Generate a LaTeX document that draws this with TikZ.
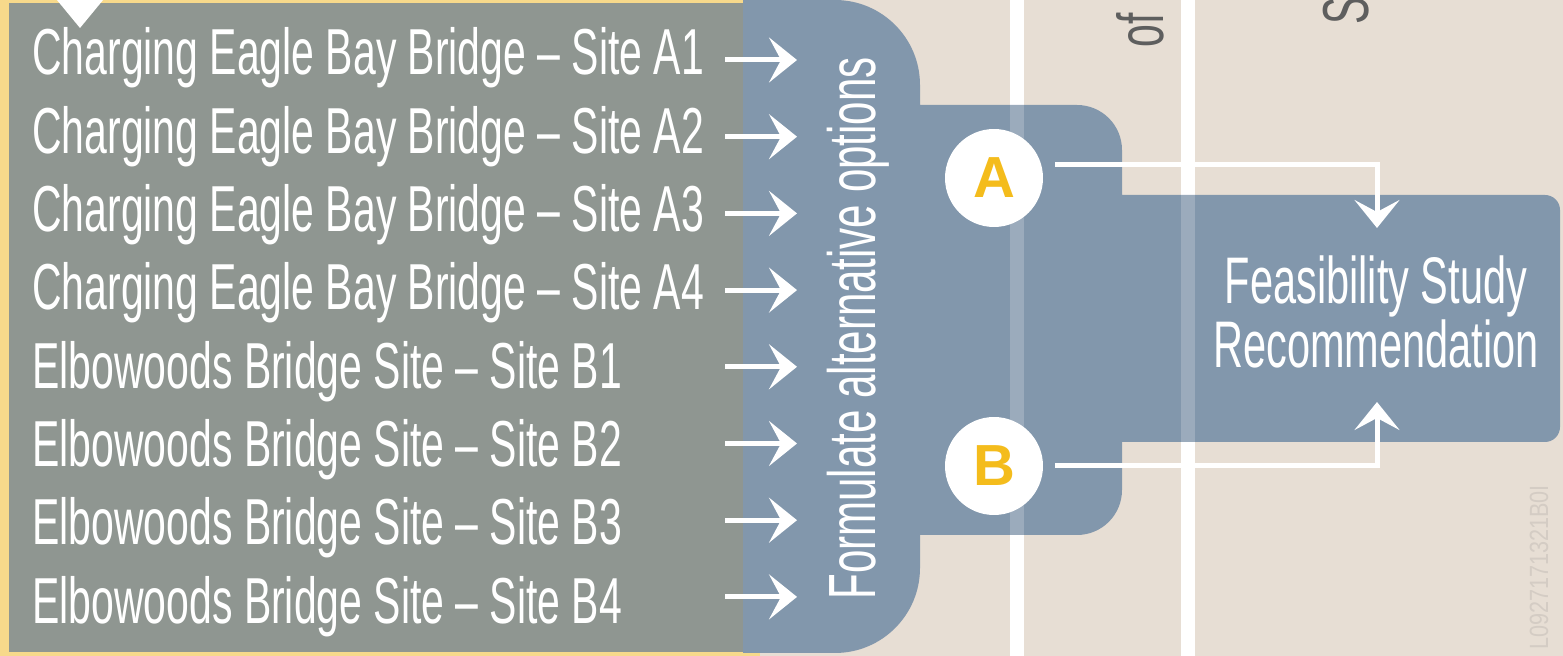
\documentclass[tikz,border=0pt]{standalone}
\usepackage{fontspec}
\usetikzlibrary{arrows.meta}
\newfontfamily\condfont[FakeStretch=0.63]{Liberation Sans}
\newfontfamily\markfont[FakeStretch=0.82]{Liberation Sans}
\newfontfamily\letterfont{Liberation Sans}
\definecolor{bgbeige}{RGB}{231,222,212}
\definecolor{frameyellow}{RGB}{247,217,139}
\definecolor{panelgray}{RGB}{143,150,145}
\definecolor{panelblue}{RGB}{130,151,172}
\definecolor{letteryellow}{RGB}{244,188,28}
\definecolor{headgray}{RGB}{94,94,94}
\definecolor{markgray}{RGB}{212,204,196}

\begin{document}
\begin{tikzpicture}[
  x=0.02cm, y=0.02cm,
  site/.style={anchor=base west,inner sep=0pt,text=white,font=\condfont\fontsize{37}{37}\selectfont},
  flow/.style={white,line width=0.1cm,-{Stealth[length=0.56cm,width=0.9cm,inset=0.24cm]}},
  rail/.style={white,line width=0.27cm},
  option/.style={circle,fill=white,minimum size=1.96cm,inner sep=0pt,text=letteryellow,
    font=\letterfont\bfseries\fontsize{33}{33}\selectfont},
  reco/.style={text=white,align=center,inner sep=0pt,font=\condfont\fontsize{37.5}{31}\selectfont}
]
\useasboundingbox (0,0) rectangle (1563,656);
\clip (0,0) rectangle (1563,656);

\fill[bgbeige] (0,0) rectangle (1563,656);
\fill[frameyellow] (0,0) rectangle (760,656);
\fill[panelgray] (9,4) rectangle (760,653);
\fill[white] (52,662) -- (108,662) -- (80,628) -- cycle;

\foreach \x in {1017,1188} \draw[rail] (\x,0) -- (\x,656);

\fill[panelblue] (743,656) -- (835,656) arc[start angle=90,end angle=0,radius=85]
  -- (920,551) -- (1077,551) arc[start angle=90,end angle=0,radius=45]
  -- (1122,461) -- (1545,461) arc[start angle=90,end angle=0,radius=15]
  -- (1560,229) arc[start angle=0,end angle=-90,radius=15]
  -- (1122,214) -- (1122,166) arc[start angle=0,end angle=-90,radius=45]
  -- (920,121) -- (920,88) arc[start angle=0,end angle=-90,radius=85]
  -- (743,3) -- cycle;

\foreach \x in {1017,1188} \draw[rail,opacity=0.2] (\x,0) -- (\x,656);

\node[site,text=headgray,rotate=90] (headof) at (1163,608) {of};
\node[site,text=headgray,rotate=90] (heads) at (1368,631) {S};
\node[anchor=base west,inner sep=0pt,rotate=90,text=markgray,font=\markfont\fontsize{15}{15}\selectfont]
  (mark) at (1548,6) {L0927171321B0I};

\foreach \s [count=\i] in {A1,A2,A3,A4}
  \node[site] (site\s) at (32,{581-78.3*(\i-1)}) {Charging Eagle Bay Bridge – Site \s};
\foreach \s [count=\i from 5] in {B1,B2,B3,B4}
  \node[site] (site\s) at (32,{581-78.3*(\i-1)}) {Elbowoods Bridge Site – Site \s};

\foreach \i in {1,...,8} {
  \coordinate (from\i) at (725,{596-76.7*(\i-1)});
  \coordinate (to\i) at (797,{596-76.7*(\i-1)});
  \draw[flow] (from\i) -- (to\i);
}

\node[site,rotate=90,font=\condfont\fontsize{38}{38}\selectfont] (formulate) at (875,56)
  {Formulate alternative options};

\node[option] (circA) at (994,478) {A};
\node[option] (circB) at (994,190) {B};

\node[reco] (feasibility) at (1376,344) {Feasibility Study\\Recommendation};

\coordinate (tipA) at (1377,428);
\coordinate (tipB) at (1377,254);
\draw[flow] ([xshift=0.24cm,yshift=0.26cm]circA.east) -| (tipA);
\draw[flow] ([xshift=0.24cm]circB.east) -| (tipB);

\end{tikzpicture}
\end{document}
